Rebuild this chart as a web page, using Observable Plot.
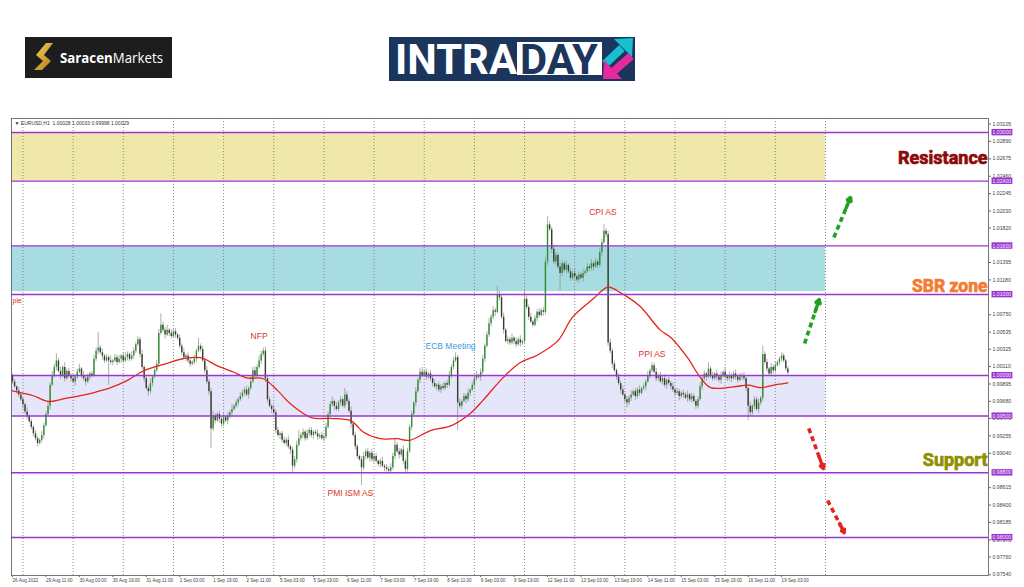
<!DOCTYPE html>
<html><head><meta charset="utf-8">
<script src="https://cdn.jsdelivr.net/npm/d3@7"></script>
<script src="https://cdn.jsdelivr.net/npm/@observablehq/plot@0.6"></script>
<style>
html,body{margin:0;padding:0;background:#fff;width:1024px;height:587px;overflow:hidden}
#header,#chart svg{display:block}
</style></head><body>
<svg id="header" width="1024" height="115" viewBox="0 0 1024 115">
  <defs><linearGradient id="gold" x1="0" y1="0" x2="1" y2="1"><stop offset="0" stop-color="#f7d262"/><stop offset="1" stop-color="#b07a12"/></linearGradient></defs>
  <rect x="25" y="37" width="147" height="41" fill="#1d1d1d"/>
  <path d="M46 43 L53 43 L44 55 L51 61 L42 70 L34 70 L43 61 L36 55 Z" fill="url(#gold)"/>
  <text x="60" y="63" font-family="'Open Sans'" font-size="14" fill="#fff" textLength="103" lengthAdjust="spacingAndGlyphs"><tspan font-weight="700">Saracen</tspan><tspan font-weight="400">Markets</tspan></text>
  <rect x="389" y="37" width="246" height="44" fill="#1b355c"/>
  <text x="395" y="73.5" font-family="Roboto" font-weight="700" font-size="42" fill="#fff" textLength="122" lengthAdjust="spacingAndGlyphs">INTRA</text>
  <rect x="517" y="42" width="85" height="33" fill="#fff"/>
  <text x="520" y="73.5" font-family="Roboto" font-weight="700" font-size="42" fill="#1b355c" textLength="78" lengthAdjust="spacingAndGlyphs">DAY</text>
  <line x1="605" y1="64" x2="622" y2="48" stroke="#17c0d0" stroke-width="8"/>
  <polygon points="633,38 614,39 632,57" fill="#17c0d0"/>
  <line x1="631" y1="56" x2="614" y2="71" stroke="#e52a9d" stroke-width="8"/>
  <polygon points="603,79 622,79 604,60" fill="#e52a9d"/>
</svg>
<div id="chart"></div>
<script>
// ---- data (prices in pips above 0.9700) ----
const pipBase = 0.97;
const levelPrices = [1.03, 1.024, 1.016, 1.01, 1.0, 0.995, 0.988, 0.98];
const resistanceZone = [1.024, 1.03];
const sbrZone = [1.01035, 1.01595];
const pivotZone = [0.995, 1.0];
const zoneEndBar = 389;
const daySeparatorBars = [5,29,53,77,101,125,149,173,197,221,245,269,293,317,341,365,389];
const xTickBars = [0,16,32,48,64,80,96,112,128,144,160,176,192,208,224,240,256,272,288,304,320,336,352,368];
const xTickLabels = ["26 Aug 2022","29 Aug 11:00","30 Aug 03:00","30 Aug 19:00","31 Aug 11:00","1 Sep 03:00","1 Sep 19:00","2 Sep 11:00","5 Sep 03:00","5 Sep 19:00","6 Sep 11:00","7 Sep 03:00","7 Sep 19:00","8 Sep 11:00","9 Sep 03:00","9 Sep 19:00","12 Sep 11:00","13 Sep 03:00","13 Sep 19:00","14 Sep 11:00","15 Sep 03:00","15 Sep 19:00","16 Sep 11:00","19 Sep 03:00"];
const yTickValues = [0.9754,0.9776,0.9797,0.98185,0.984,0.98615,0.9904,0.99255,0.9947,0.9968,0.99895,1.0011,1.00325,1.00535,1.0075,1.0118,1.01395,1.0182,1.0203,1.02245,1.0246,1.02675,1.0289,1.03105];
const firstOpenPips = 300;
const closePips = [
292,286,281,276,270,264,255,250,243,236,
228,222,216,220,226,238,252,262,288,300,
310,318,305,300,310,296,305,300,296,292,
298,304,308,300,296,292,298,302,300,320,
330,334,328,324,318,322,318,316,318,322,
316,320,324,318,322,326,320,324,330,338,
344,326,310,296,284,280,290,298,306,314,
352,362,356,350,356,352,348,354,350,346,
336,328,322,324,318,314,316,320,330,336,
332,318,306,292,280,234,250,244,252,246,
240,248,244,250,254,258,262,266,270,274,
278,282,276,284,292,306,300,310,318,326,
330,296,270,262,258,254,232,226,228,220,
216,220,212,208,188,196,214,222,226,230,
222,228,232,226,230,228,224,226,222,224,
236,252,264,268,262,258,266,270,262,276,
268,256,240,226,212,200,196,186,200,206,
198,204,196,200,194,190,194,188,186,184,
182,186,200,214,206,202,208,194,184,206,
236,252,266,280,294,304,300,304,298,302,
296,290,286,288,282,286,284,290,288,300,
310,318,322,266,262,268,274,270,278,282,
288,296,300,298,304,320,336,350,364,372,
380,378,400,396,372,356,342,344,340,346,
342,338,344,340,342,394,384,372,366,362,
370,378,374,380,378,440,486,480,456,440,
448,434,426,438,430,436,428,420,426,422,
418,424,420,426,428,434,432,438,434,440,
436,452,464,478,474,340,330,314,306,298,
290,282,276,270,266,272,276,280,274,282,
278,284,286,292,300,306,312,304,296,300,
292,296,288,294,290,286,282,278,280,274,
278,276,272,276,270,274,268,262,270,286,
296,302,298,308,300,296,302,298,294,300,
304,298,296,300,296,302,298,294,298,300,
296,284,262,254,262,270,258,266,272,326,
316,308,302,310,306,312,316,320,324,318,
308,303];
const wickUpPips = [
2,3,1,4,2,3,2,5,1,3,
2,4,3,2,5,3,4,6,3,5,
4,9,3,5,2,6,3,4,2,5,
3,4,6,2,5,3,4,2,3,5,
4,19,3,5,2,4,3,6,2,4,
3,5,2,4,6,3,2,5,4,3,
4,3,5,2,4,3,6,2,4,5,
5,14,4,3,6,2,5,3,4,2,
4,3,5,2,4,3,2,5,3,10,
3,4,2,5,3,4,6,3,2,4,
3,5,2,4,3,6,2,4,3,5,
4,3,5,2,6,4,5,3,6,4,
4,5,3,4,2,5,3,4,2,3,
4,3,5,2,3,4,5,10,3,4,
2,5,3,4,2,3,5,2,4,3,
5,3,4,6,2,5,3,4,2,8,
4,3,5,2,4,3,2,4,5,3,
4,2,5,3,4,2,3,5,2,4,
3,5,4,8,3,4,2,5,3,4,
3,4,2,5,3,4,6,3,4,2,
4,3,5,2,4,3,5,2,4,5,
3,4,6,3,5,2,4,3,5,2,
4,3,5,2,4,5,3,4,6,3,
5,3,10,4,3,5,2,4,3,5,
2,4,3,5,2,12,4,3,5,2,
4,3,5,2,4,6,10,4,3,5,
4,3,5,4,3,5,2,4,3,5,
2,4,3,5,2,4,3,5,2,4,
3,5,4,8,3,4,5,3,4,2,
4,3,5,2,4,3,5,2,4,3,
5,2,4,3,5,2,4,3,5,2,
4,3,5,2,4,3,5,2,4,3,
2,4,3,5,2,4,3,2,4,5,
3,4,2,8,3,4,2,5,3,4,
2,5,3,4,2,3,5,2,4,3,
4,2,3,5,2,4,3,5,2,10,
3,4,2,5,3,4,2,3,4,3,
2,3];
const wickDownPips = [
3,2,4,3,2,5,3,4,2,3,
4,3,4,2,3,4,2,3,5,2,
3,4,2,5,3,4,2,3,4,2,
5,3,2,4,3,5,2,4,3,2,
3,4,2,5,3,2,30,3,4,2,
4,2,5,3,2,4,3,2,4,3,
2,4,3,5,2,6,3,4,2,3,
4,2,3,5,2,4,3,2,4,3,
3,4,2,5,3,4,2,3,4,2,
3,2,4,3,5,24,3,4,2,5,
4,3,2,5,3,4,2,3,4,2,
3,4,2,5,3,2,4,3,2,4,
3,5,4,2,5,3,4,2,5,3,
2,4,3,5,8,3,4,2,3,4,
3,2,4,3,5,2,4,3,2,4,
3,2,4,3,5,2,3,4,2,3,
4,3,5,2,4,3,2,22,3,4,
2,5,3,4,2,3,4,2,5,3,
4,2,3,4,2,5,3,4,6,3,
2,4,3,5,2,4,3,2,4,3,
3,4,2,5,3,4,2,3,4,2,
4,3,2,34,3,4,2,5,3,4,
2,4,3,2,5,3,4,2,3,4,
3,5,2,4,3,5,2,4,3,2,
4,3,2,5,3,4,3,4,2,3,
2,4,3,2,5,3,4,2,5,3,
4,3,21,4,3,5,2,4,3,5,
3,4,2,5,3,2,4,3,5,2,
4,3,5,2,4,4,3,5,2,4,
3,5,2,4,6,3,4,2,5,3,
4,2,3,5,2,4,3,2,4,3,
2,4,3,5,2,4,3,4,2,5,
3,4,2,5,3,4,2,4,3,2,
4,3,5,2,4,3,2,4,3,5,
3,2,4,3,5,2,4,3,2,4,
3,4,18,5,3,4,2,5,3,4,
2,4,3,2,4,3,2,4,3,2,
3,2];
const maBars = [0,10,17,26,39,47,55,63,74,82,90,98,106,112,120,127,133,143,152,162,168,176,184,190,200,210,219,225,235,243,251,261,268,278,285,291,300,310,315,323,329,334,345,352,358,366,371];
const maPips = [281,275,268,272,279,285,294,306,315,321,322,312,304,297,296,281,265,248,247,244,230,222,222,220,232,238,253,269,298,316,325,343,372,395,409,402,386,356,347,322,298,285,286,288,285,289,291];
const eventLabels = ["NFP","PMI ISM AS","CPI AS","PPI AS"];
const eventBars = [118,161.7,282.5,306];
const eventPrices = [1.00481,0.98543,1.02019,1.00265];
const ecbLabel = "ECB Meeting", ecbBar = 209.6, ecbPrice = 1.00358;
const cutLabel = "ple", cutPrice = 1.00926;
const zoneLabels = ["Resistance","SBR zone","Support"];
const zoneLabelPrices = [1.02679,1.01099,0.98951];
const arrowTailBars = [393,379,381,390];
const arrowTailPrices = [1.01704,1.00395,0.99346,0.98457];
const arrowTipBars = [401,386,388,398];
const arrowTipPrices = [1.02198,1.00938,0.98852,0.9806];
const mtHeader = "\u25BC EURUSD,H1  1.00028 1.00033 0.99998 1.00029";

// ---- derived tables ----
const toPrice = p => pipBase + p / 10000;
const candles = closePips.map((c, i) => {
  const o = i === 0 ? firstOpenPips : closePips[i - 1];
  return {i, open: toPrice(o), close: toPrice(c),
    high: toPrice(Math.max(o, c) + wickUpPips[i]),
    low: toPrice(Math.min(o, c) - wickDownPips[i]), up: c >= o};
});
const ma = maBars.map((b, i) => ({b, p: toPrice(maPips[i])}));
const events = eventLabels.map((t, i) => ({t, b: eventBars[i], p: eventPrices[i]}));
const arrows = arrowTailBars.map((b, i) => ({x1: b, y1: arrowTailPrices[i], x2: arrowTipBars[i], y2: arrowTipPrices[i], up: arrowTipPrices[i] > arrowTailPrices[i]}));
const xLabel = new Map(xTickBars.map((b, i) => [b, xTickLabels[i]]));
const xDomain = [-0.48, 467];
const xStart = xDomain[0];
const lvlTextColor = "#f6ecff";
const purple = "#9b35cf";
const along = (a, b, f) => a + (b - a) * f;

const zoneMark = (z, fill) => Plot.rect([z], {x1: xStart, x2: zoneEndBar, y1: d => d[0], y2: d => d[1], fill});
const zoneText = (k, fill, size) => Plot.text([zoneLabels[k]], {frameAnchor: "right", y: () => zoneLabelPrices[k], text: d => d, textAnchor: "end", dx: -1, fill, stroke: fill, strokeWidth: 0.7, fontSize: size, fontWeight: 700, fontFamily: "Roboto"});

const chart = Plot.plot({
  width: 1024, height: 472,
  marginLeft: 11, marginRight: 36, marginTop: 3, marginBottom: 12,
  style: {fontFamily: "'Liberation Sans', Arial, sans-serif", background: "#fff", overflow: "visible"},
  x: {domain: xDomain},
  y: {domain: [0.975309, 1.031728]},
  marks: [
    zoneMark(resistanceZone, "#efe8aa"),
    zoneMark(sbrZone, "#a8dce3"),
    zoneMark(pivotZone, "#e6e6fa"),
    Plot.ruleX(daySeparatorBars, {stroke: "#6e6e6e", strokeWidth: 0.8, strokeDasharray: "1,2"}),
    Plot.ruleX(candles, {x: "i", y1: "low", y2: "high", stroke: "#8c8c8c", strokeWidth: 0.7}),
    Plot.ruleX(candles, {x: "i", y1: "open", y2: "close", stroke: d => d.up ? "#2f8f2f" : "#3a3a2e", strokeWidth: 1.4}),
    Plot.line(ma, {x: "b", y: "p", stroke: "#e5231b", strokeWidth: 1.3, curve: "catmull-rom"}),
    Plot.ruleY(levelPrices, {stroke: purple, strokeWidth: 1.4}),
    Plot.frame({stroke: "#555", strokeWidth: 0.8}),
    Plot.axisY({anchor: "right", ticks: yTickValues, tickFormat: d => d.toFixed(5), tickSize: 2, tickPadding: 2, fontSize: 5.2, fill: "#444", stroke: "#666", label: null}),
    Plot.axisX({ticks: xTickBars, tickFormat: d => xLabel.get(d), textAnchor: "start", tickSize: 2, tickPadding: 1, fontSize: 4.6, fill: "#444", stroke: "#666", label: null}),
    Plot.text(levelPrices, {frameAnchor: "right", y: d => d, text: d => d.toFixed(5), textAnchor: "start", dx: 4, fill: lvlTextColor, fontSize: 5.2}),
    Plot.text([mtHeader], {frameAnchor: "top-left", text: d => d, dx: 3, dy: 3, fontSize: 5, fill: "#333"}),
    Plot.text(events, {x: "b", y: "p", text: "t", fill: "#e0302a", fontSize: 8.5}),
    Plot.text([ecbLabel], {x: () => ecbBar, y: () => ecbPrice, text: d => d, fill: "#3d9be0", fontSize: 8.5}),
    Plot.text([cutLabel], {x: () => xStart, y: () => cutPrice, text: d => d, textAnchor: "start", dx: 1, fill: "#e0302a", fontSize: 7}),
    zoneText(0, "#8b0a0a", 18),
    zoneText(1, "#f47a30", 17.5),
    zoneText(2, "#8f8f00", 18),
    Plot.link(arrows, {x1: "x1", y1: "y1", x2: d => along(d.x1, d.x2, 0.8), y2: d => along(d.y1, d.y2, 0.8), stroke: d => d.up ? "#22a022" : "#e8231d", strokeWidth: 3.6, strokeDasharray: "5,3.5"}),
    Plot.arrow(arrows, {x1: d => along(d.x1, d.x2, 0.72), y1: d => along(d.y1, d.y2, 0.72), x2: "x2", y2: "y2", stroke: d => d.up ? "#22a022" : "#e8231d", strokeWidth: 3.4, headLength: 9})
  ]
});
document.getElementById("chart").append(chart);
chart.querySelectorAll('g[fill="' + lvlTextColor + '"] text').forEach(t => {
  const b = t.getBBox();
  const r = document.createElementNS("http://www.w3.org/2000/svg", "rect");
  r.setAttribute("x", b.x - 1); r.setAttribute("y", b.y - 0.2);
  r.setAttribute("width", b.width + 2); r.setAttribute("height", b.height + 0.4);
  r.setAttribute("fill", purple);
  const tr = t.getAttribute("transform"); if (tr) r.setAttribute("transform", tr);
  t.parentNode.insertBefore(r, t);
});
</script>
</body></html>
